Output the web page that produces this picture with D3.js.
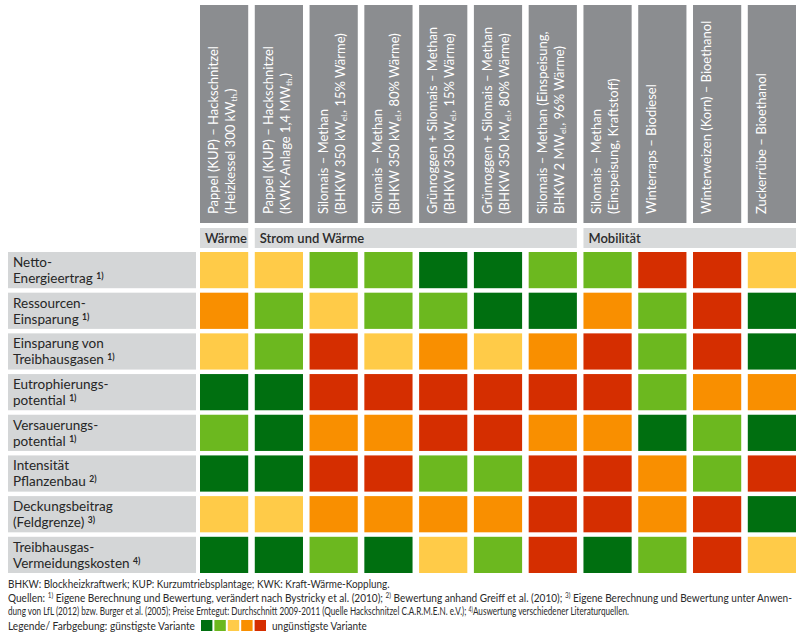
<!DOCTYPE html>
<html><head><meta charset="utf-8">
<script src="https://cdn.jsdelivr.net/npm/d3@7"></script>
<style>
html,body{margin:0;padding:0;background:#fff;}
svg{display:block;font-family:Lato,"Open Sans",sans-serif;}
</style></head>
<body><svg id="chart" width="800" height="638"></svg>
<script>
// ---- data ----
const columnHeaders = [
  ["Pappel (KUP) – Hackschnitzel", "(Heizkessel 300 kW_{th.})"],
  ["Pappel (KUP) – Hackschnitzel", "(KWK-Anlage 1,4 MW_{th.})"],
  ["Silomais – Methan", "(BHKW 350 kW_{el.}, 15% Wärme)"],
  ["Silomais – Methan", "(BHKW 350 kW_{el.}, 80% Wärme)"],
  ["Grünroggen + Silomais – Methan", "(BHKW 350 kW_{el.}, 15% Wärme)"],
  ["Grünroggen + Silomais – Methan", "(BHKW 350 kW_{el.}, 80% Wärme)"],
  ["Silomais – Methan (Einspeisung,", "BHKW 2 MW_{el.}, 96% Wärme)"],
  ["Silomais – Methan", "(Einspeisung, Kraftstoff)"],
  ["Winterraps – Biodiesel"],
  ["Winterweizen (Korn) – Bioethanol"],
  ["Zuckerrübe – Bioethanol"]
];
const groups = [
  {name: "Wärme", first: 0, last: 0},
  {name: "Strom und Wärme", first: 1, last: 6},
  {name: "Mobilität", first: 7, last: 10}
];
const rowLabels = [
  ["Netto-", "Energieertrag"],
  ["Ressourcen-", "Einsparung"],
  ["Einsparung von", "Treibhausgasen"],
  ["Eutrophierungs-", "potential"],
  ["Versauerungs-", "potential"],
  ["Intensität", "Pflanzenbau"],
  ["Deckungsbeitrag", "(Feldgrenze)"],
  ["Treibhausgas-", "Vermeidungskosten"]
];
const rowNotes = ["1)", "1)", "1)", "1)", "1)", "2)", "3)", "4)"];
// rating 1 = günstigste ... 5 = ungünstigste
const ratings = [
  [3,3,2,2,1,1,2,2,5,5,3],
  [4,2,3,2,2,1,1,4,2,5,1],
  [3,2,5,3,4,3,4,5,2,5,1],
  [1,1,5,5,5,5,5,5,2,4,4],
  [2,1,4,4,5,5,4,4,1,2,1],
  [1,1,5,5,2,2,5,5,4,2,5],
  [3,3,4,4,4,4,5,5,4,5,1],
  [1,1,2,1,3,2,5,1,2,5,3]
];
const levels = [1,2,3,4,5];
const levelColors = ["#006f10", "#6cb81f", "#ffcb48", "#f98f00", "#d52e00"];
const footerLines = [
  "BHKW: Blockheizkraftwerk; KUP: Kurzumtriebsplantage; KWK: Kraft-Wärme-Kopplung.",
  "Quellen: ^{1)} Eigene Berechnung und Bewertung, verändert nach Bystricky et al. (2010); ^{2)} Bewertung anhand Greiff et al. (2010); ^{3)} Eigene Berechnung und Bewertung unter Anwen-",
  "dung von LfL (2012) bzw. Burger et al. (2005); Preise Erntegut: Durchschnitt 2009-2011 (Quelle Hackschnitzel C.A.R.M.E.N. e.V.); ^{4)}Auswertung verschiedener Literaturquellen."
];
const legendLeft = "Legende/ Farbgebung: günstigste Variante";
const legendRight = "ungünstigste Variante";

// ---- drawing ----
const svg = d3.select("#chart");
const x = d3.scaleBand().domain(d3.range(columnHeaders.length)).range([200, 796]).paddingInner(0.12).paddingOuter(0);
const y = d3.scaleBand().domain(d3.range(rowLabels.length)).range([252, 573]).paddingInner(0.11).paddingOuter(0);
const color = d3.scaleOrdinal().domain(levels).range(levelColors);

const headerTop = 5, headerBottom = 223;
const bandTop = 228, bandBottom = 248;

// rich text: _{sub} and ^{sup}
function addRich(textSel, str, size) {
  const parts = str.split(/([_^]\{[^}]*\})/);
  parts.forEach(p => {
    if (!p) return;
    const m = p.match(/^([_^])\{([^}]*)\}$/);
    if (m) {
      textSel.append("tspan").attr("font-size", size * 0.64)
        .attr("baseline-shift", m[1] === "_" ? "-25%" : "45%").text(m[2]);
    } else {
      textSel.append("tspan").text(p);
    }
  });
}

// column header boxes
const hdr = svg.append("g").selectAll("g").data(columnHeaders).join("g");
hdr.append("rect")
  .attr("x", (d,i) => x(i)).attr("y", headerTop)
  .attr("width", x.bandwidth()).attr("height", headerBottom - headerTop)
  .attr("fill", "#8b8d90");
hdr.each(function(d, i) {
  const g = d3.select(this).append("g")
    .attr("transform", `translate(${x(i) + 18},${headerBottom - 9}) rotate(-90)`);
  d.forEach((line, k) => {
    const t = g.append("text").attr("x", 0).attr("y", k * 17)
      .attr("fill", "#ffffff").attr("font-size", 13);
    addRich(t, line, 13);
  });
});

// group bands
const gb = svg.append("g").selectAll("g").data(groups).join("g");
gb.append("rect")
  .attr("x", d => x(d.first)).attr("y", bandTop)
  .attr("width", d => x(d.last) + x.bandwidth() - x(d.first))
  .attr("height", bandBottom - bandTop).attr("fill", "#d8dadb");
gb.append("text")
  .attr("x", d => x(d.first) + 5).attr("y", bandTop + 14.5)
  .attr("font-size", 13).attr("font-weight", 600).attr("fill", "#2b2b2b")
  .text(d => d.name);

// row labels
const rl = svg.append("g").selectAll("g").data(rowLabels).join("g");
rl.append("rect")
  .attr("x", 8).attr("y", (d,i) => y(i))
  .attr("width", 188).attr("height", y.bandwidth()).attr("fill", "#d4d6d7");
rl.each(function(d, i) {
  const g = d3.select(this);
  g.append("text").attr("x", 13).attr("y", y(i) + 15)
    .attr("font-size", 13.5).attr("fill", "#262626").text(d[0]);
  const t = g.append("text").attr("x", 13).attr("y", y(i) + 31)
    .attr("font-size", 13.5).attr("fill", "#262626");
  t.append("tspan").text(d[1] + " ");
  t.append("tspan").attr("font-size", 8.5).attr("baseline-shift", "45%").attr("font-weight", 700).text(rowNotes[i]);
});

// cells
const cells = [];
ratings.forEach((row, r) => row.forEach((v, c) => cells.push({r, c, v})));
svg.append("g").selectAll("rect").data(cells).join("rect")
  .attr("x", d => x(d.c)).attr("y", d => y(d.r))
  .attr("width", x.bandwidth()).attr("height", y.bandwidth())
  .attr("fill", d => color(d.v));

// footer: natural text, then stretched horizontally to the reference width
function fitText(str, x0, y0, target) {
  const g = svg.append("g");
  const t = g.append("text").attr("x", 0).attr("y", 0)
    .attr("font-size", 11).attr("fill", "#2a2a2a");
  addRich(t, str, 11);
  const w = t.node().getComputedTextLength();
  g.attr("transform", `translate(${x0},${y0}) scale(${target / w},1)`);
}
const footY = [588, 601.5, 615];
const footLen = [382, 785, 622];
footerLines.forEach((s, k) => fitText(s, 8, footY[k], footLen[k]));

// legend
fitText(legendLeft, 8, 630, 187);
const lx = d3.scaleBand().domain(levels).range([201, 266]).paddingInner(0.15);
svg.append("g").selectAll("rect").data(levels).join("rect")
  .attr("x", d => lx(d)).attr("y", 620).attr("width", lx.bandwidth()).attr("height", 11)
  .attr("fill", d => color(d));
fitText(legendRight, 272, 630, 95);
</script>
</body></html>
